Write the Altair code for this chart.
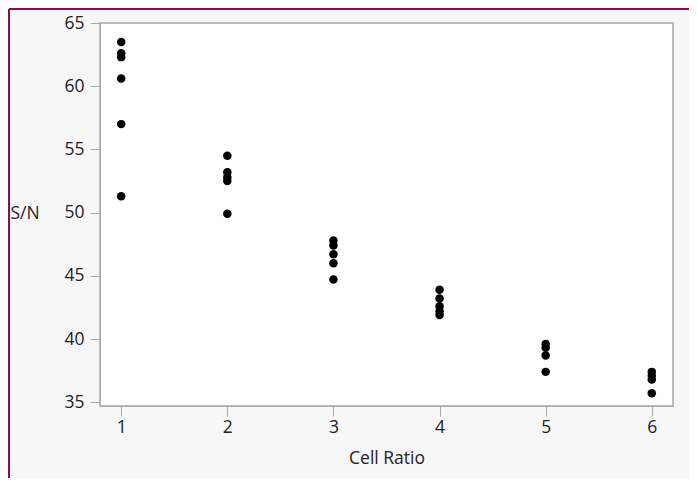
import altair as alt
import pandas as pd

# Values
cell_ratios = [1, 2, 3, 4, 5, 6]
sn_ratio_1 = [63.5, 62.6, 62.3, 60.6, 57.0, 51.3]
sn_ratio_2 = [54.5, 53.2, 52.8, 52.5, 49.9]
sn_ratio_3 = [47.8, 47.4, 46.7, 46.0, 44.7]
sn_ratio_4 = [43.9, 43.2, 42.6, 42.2, 41.9]
sn_ratio_5 = [39.6, 39.3, 38.7, 37.4]
sn_ratio_6 = [37.4, 37.1, 36.8, 35.7]
y_ticks = [35, 40, 45, 50, 55, 60, 65]

groups = [sn_ratio_1, sn_ratio_2, sn_ratio_3, sn_ratio_4, sn_ratio_5, sn_ratio_6]
rows = []
for r, vals in zip(cell_ratios, groups):
    for v in vals:
        rows.append({"ratio": r, "sn": v})
df = pd.DataFrame(rows)

FONT = "Open Sans"
TXT = "#222222"
GRAY = "#a8a8a8"
FS = 17.5

points = alt.Chart(df).mark_circle(size=72, color="black", opacity=1).encode(
    x=alt.X(
        "ratio:Q",
        scale=alt.Scale(domain=[0.8, 6.2], nice=False, zero=False),
        axis=alt.Axis(
            values=cell_ratios, format="d", grid=False, title="Cell Ratio",
            domainColor=GRAY, tickColor=GRAY, tickSize=10, labelPadding=2,
            labelFont=FONT, labelFontSize=FS, labelColor=TXT,
            titleFont=FONT, titleFontSize=FS, titleColor=TXT, titleFontWeight="normal",
            titleBaseline="alphabetic", titleY=57,
        ),
    ),
    y=alt.Y(
        "sn:Q",
        scale=alt.Scale(domain=[34.7, 65], nice=False, zero=False),
        axis=alt.Axis(
            values=y_ticks, grid=False, title="S/N",
            domainColor=GRAY, tickColor=GRAY, tickSize=10, labelPadding=6,
            labelFont=FONT, labelFontSize=FS, labelColor=TXT,
            titleFont=FONT, titleFontSize=FS, titleColor=TXT, titleFontWeight="normal",
            titleAngle=0, titleAlign="left", titleBaseline="middle",
            titleX=-90, titleY=190,
        ),
    ),
)

one = pd.DataFrame({"a": [0]})
left_border = alt.Chart(one).mark_rule(color="#8b0a50", strokeWidth=2).encode(
    x=alt.value(-91), y=alt.value(-14), y2=alt.value(470)
)
top_border = alt.Chart(one).mark_rule(color="#8b0a50", strokeWidth=2).encode(
    y=alt.value(-14), x=alt.value(-91), x2=alt.value(600)
)

chart = alt.layer(points, left_border, top_border).properties(
    width=573,
    height=383,
    autosize=alt.AutoSizeParams(type="none"),
    padding={"left": 92, "top": 15, "right": 16, "bottom": 72},
    background="#f7f7f7",
).configure_view(fill="white", stroke=GRAY, strokeWidth=1.5)

chart.save("out.html", embed_options={"renderer": "svg", "actions": False})
